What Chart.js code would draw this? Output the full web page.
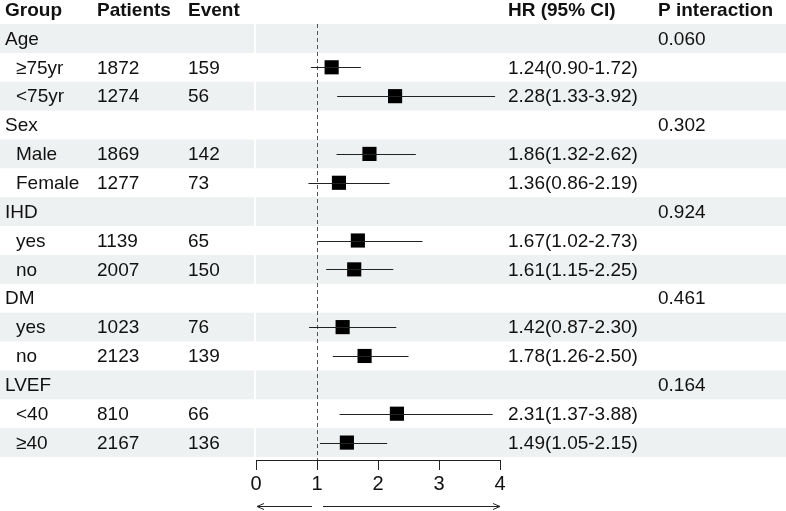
<!DOCTYPE html>
<html>
<head>
<meta charset="utf-8">
<script src="https://cdn.jsdelivr.net/npm/chart.js@4/dist/chart.umd.min.js"></script>
<style>
  body { margin: 0; background: #fff; }
  canvas { display: block; }
</style>
</head>
<body>
<canvas id="myChart" width="786" height="511"></canvas>
<script>
// table rows, top to bottom
var groups   = ['Age', '≥75yr', '<75yr', 'Sex', 'Male', 'Female', 'IHD', 'yes', 'no', 'DM', 'yes', 'no', 'LVEF', '<40', '≥40'];
var patients = ['', '1872', '1274', '', '1869', '1277', '', '1139', '2007', '', '1023', '2123', '', '810', '2167'];
var events   = ['', '159', '56', '', '142', '73', '', '65', '150', '', '76', '139', '', '66', '136'];
var hr       = [null, 1.24, 2.28, null, 1.86, 1.36, null, 1.67, 1.61, null, 1.42, 1.78, null, 2.31, 1.49];
var lower    = [null, 0.90, 1.33, null, 1.32, 0.86, null, 1.02, 1.15, null, 0.87, 1.26, null, 1.37, 1.05];
var upper    = [null, 1.72, 3.92, null, 2.62, 2.19, null, 2.73, 2.25, null, 2.30, 2.50, null, 3.88, 2.15];
var pInter   = ['0.060', '', '', '0.302', '', '', '0.924', '', '', '0.461', '', '', '0.164', '', ''];
var headers  = ['Group', 'Patients', 'Event', 'HR (95% CI)', 'P interaction'];
var xTicks   = [0, 1, 2, 3, 4];

var FONT = '"Liberation Sans", Arial, sans-serif';
var colX = [5, 97, 188, 508, 658];

var points = [];
hr.forEach(function (v, i) {
	if (v !== null) points.push({ x: v, y: i });
});

var forestPlugin = {
	id: 'forest',
	beforeDraw: function (chart) {
		var ctx = chart.ctx;
		var ys = chart.scales.y;
		ctx.save();
		ctx.fillStyle = '#eef1f1';
		groups.forEach(function (g, i) {
			if (i % 2 !== 0) return;
			var top = ys.getPixelForValue(i - 0.5);
			var bot = ys.getPixelForValue(i + 0.5);
			ctx.fillRect(0, top, 254, bot - top);
			ctx.fillRect(256, top, chart.width - 256, bot - top);
		});
		ctx.restore();
	},
	afterDatasetsDraw: function (chart) {
		var ctx = chart.ctx;
		var xs = chart.scales.x;
		var ys = chart.scales.y;
		var area = chart.chartArea;
		ctx.save();

		// reference line at HR = 1
		ctx.strokeStyle = '#555';
		ctx.lineWidth = 1;
		ctx.setLineDash([4, 3]);
		ctx.beginPath();
		ctx.moveTo(Math.round(xs.getPixelForValue(1)) + 0.5, area.top);
		ctx.lineTo(Math.round(xs.getPixelForValue(1)) + 0.5, area.bottom);
		ctx.stroke();
		ctx.setLineDash([]);

		// confidence intervals
		ctx.strokeStyle = '#222';
		hr.forEach(function (v, i) {
			if (v === null) return;
			var y = Math.round(ys.getPixelForValue(i)) + 0.5;
			ctx.beginPath();
			ctx.moveTo(xs.getPixelForValue(lower[i]), y);
			ctx.lineTo(xs.getPixelForValue(upper[i]), y);
			ctx.stroke();
		});
		ctx.restore();
	},
	afterDraw: function (chart) {
		var ctx = chart.ctx;
		var xs = chart.scales.x;
		var ys = chart.scales.y;
		ctx.save();
		ctx.textBaseline = 'middle';
		ctx.fillStyle = '#111';

		ctx.font = 'bold 19px ' + FONT;
		headers.forEach(function (h, k) {
			ctx.fillText(h, colX[k], 11);
		});

		ctx.font = '19px ' + FONT;
		groups.forEach(function (g, i) {
			var y = ys.getPixelForValue(i) + 1;
			ctx.fillText(g, hr[i] === null ? 5 : 16, y);
			ctx.fillText(patients[i], colX[1], y);
			ctx.fillText(events[i], colX[2], y);
			if (hr[i] !== null) {
				ctx.fillText(hr[i].toFixed(2) + '(' + lower[i].toFixed(2) + '-' + upper[i].toFixed(2) + ')', colX[3], y);
			}
			ctx.fillText(pInter[i], colX[4], y);
		});

		// direction arrows under the axis
		var ay = 506.5;
		var x0 = xs.getPixelForValue(0);
		var x1 = xs.getPixelForValue(1);
		var x4 = xs.getPixelForValue(4);
		ctx.strokeStyle = '#222';
		ctx.lineWidth = 1;
		ctx.beginPath();
		ctx.moveTo(x0 + 1, ay); ctx.lineTo(x1 - 5, ay);
		ctx.moveTo(x0 + 8, ay - 3); ctx.lineTo(x0 + 1, ay); ctx.lineTo(x0 + 8, ay + 3);
		ctx.moveTo(x1 + 6, ay); ctx.lineTo(x4, ay);
		ctx.moveTo(x4 - 7, ay - 3); ctx.lineTo(x4, ay); ctx.lineTo(x4 - 7, ay + 3);
		ctx.stroke();
		ctx.restore();
	}
};

var ctx = document.getElementById('myChart').getContext('2d');
var myChart = new Chart(ctx, {
	type: 'scatter',
	data: {
		datasets: [{
			data: points,
			pointStyle: 'rect',
			pointRadius: 10,
			pointHoverRadius: 10,
			backgroundColor: '#000',
			borderColor: '#000',
			borderWidth: 0
		}]
	},
	options: {
		responsive: false,
		animation: false,
		devicePixelRatio: 1,
		layout: { padding: { left: 256, right: 286, top: 24, bottom: 13 } },
		plugins: { legend: { display: false }, tooltip: { enabled: false } },
		scales: {
			x: {
				type: 'linear',
				min: 0,
				max: 4,
				afterBuildTicks: function (axis) {
					axis.ticks = xTicks.map(function (v) { return { value: v }; });
				},
				grid: { drawOnChartArea: false, drawTicks: true, tickLength: 10, color: '#222' },
				border: { display: true, color: '#222' },
				ticks: { color: '#111', padding: 2, font: { family: FONT, size: 20 } }
			},
			y: {
				type: 'linear',
				display: false,
				reverse: true,
				min: -0.5,
				max: 14.5 + 3 / 29
			}
		}
	},
	plugins: [forestPlugin]
});
</script>
</body>
</html>
